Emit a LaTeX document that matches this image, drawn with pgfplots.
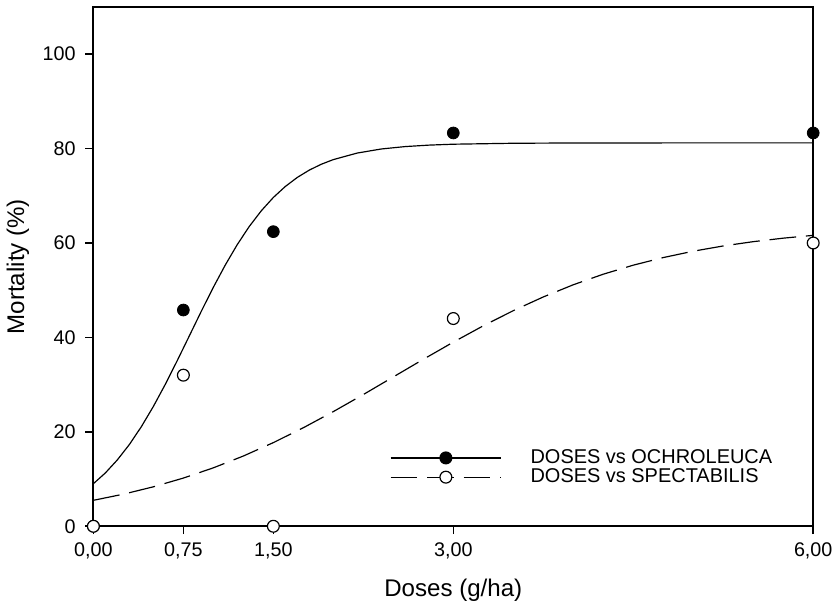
\documentclass[border=0pt]{standalone}
\usepackage{pgfplots}
\pgfplotsset{compat=1.18}
\usepackage{fontspec}
\setmainfont{Liberation Sans}

% fitted curves
\pgfplotstableread{
x y
0.0 9.02
0.1 11.30
0.2 14.07
0.3 17.32
0.4 21.10
0.5 25.38
0.6 30.09
0.7 35.14
0.8 40.34
0.9 45.56
1.0 50.62
1.1 55.36
1.2 59.69
1.3 63.52
1.4 66.83
1.5 69.64
1.6 71.97
1.7 73.89
1.8 75.44
1.9 76.68
2.0 77.66
2.2 79.05
2.4 79.91
2.6 80.42
2.8 80.73
3.0 80.92
3.5 81.12
4.0 81.18
5.0 81.20
6.0 81.20
}\fitochro

\pgfplotstableread{
x y
0.00 5.50
0.25 6.80
0.50 8.36
0.75 10.21
1.00 12.38
1.25 14.88
1.50 17.72
1.75 20.87
2.00 24.29
2.25 27.90
2.50 31.63
2.75 35.36
3.00 39.00
3.25 42.46
3.50 45.67
3.75 48.57
4.00 51.15
4.25 53.39
4.50 55.30
4.75 56.91
5.00 58.26
5.25 59.37
5.50 60.28
5.75 61.02
6.00 61.62
}\fitspect

\begin{document}
\begin{tikzpicture}
\begin{axis}[
    scale only axis,
    width=364.5pt, height=263pt,
    xmin=0, xmax=6, ymin=0, ymax=110,
    xtick={0,0.75,1.5,3,6},
    xticklabels={{0,00},{0,75},{1,50},{3,00},{6,00}},
    ytick={0,20,40,60,80,100},
    tick align=outside,
    xtick pos=bottom, ytick pos=left,
    major tick length=4pt,
    tick style={black, line width=0.8pt},
    axis line style={line width=0.9pt},
    tick label style={font=\fontsize{10}{12}\selectfont},
    yticklabel style={xshift=-1.5pt},
    xticklabel style={yshift=-1pt},
    /pgf/number format/assume math mode=true,
    xlabel={Doses (g/ha)},
    ylabel={Mortality (\%)},
    label style={font=\fontsize{12.2}{14}\selectfont},
    xlabel style={yshift=-3pt},
    clip=false,
    legend style={draw=none, fill=none, inner sep=0pt,
        at={(axis cs:2.469,16.6)}, anchor=north west,
        font=\fontsize{10.1}{12}\selectfont, row sep=0pt,
        nodes={inner sep=0.6pt},
        /tikz/every odd column/.append style={column sep=14pt}},
    legend cell align=left,
    legend image code/.code={%
        \draw[mark repeat=2, mark phase=2, #1]
            plot coordinates {(0pt,0pt) (28pt,0pt) (56pt,0pt)};},
]
\addlegendimage{black, line width=0.6pt, mark=*, mark size=3pt,
    mark options={solid, fill=black}}
\addlegendentry{DOSES vs OCHROLEUCA}
\addlegendimage{black, line width=0.6pt, dash pattern=on 13.5pt off 5pt,
    mark=*, mark size=3pt, mark options={solid, fill=white}}
\addlegendentry{DOSES vs SPECTABILIS}

\addplot[black, line width=0.6pt, forget plot] table {\fitochro};
\addplot[black, line width=0.6pt, dash pattern=on 13.5pt off 5pt, forget plot] table {\fitspect};

\addplot[only marks, mark=*, mark size=3pt, black, fill=black, forget plot]
    coordinates {(0,0) (0.75,45.8) (1.5,62.4) (3,83.3) (6,83.3)};
\addplot[only marks, mark=*, mark size=3pt, black, fill=white,
    mark options={line width=0.6pt}, forget plot]
    coordinates {(0,0) (0.75,32) (1.5,0) (3,44) (6,60)};
\end{axis}
% page margins as in the reference
\path (current axis.south west) ++(-45pt,-38pt);
\path (current axis.north east) ++(10pt,3.5pt);
\end{tikzpicture}
\end{document}
